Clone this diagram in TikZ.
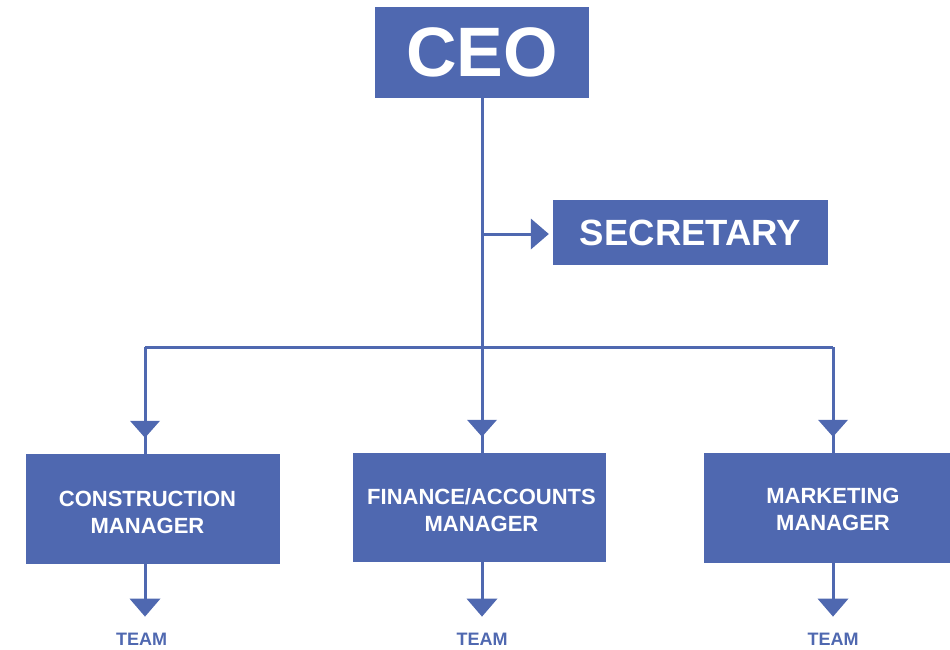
\documentclass[tikz,border=0pt]{standalone}
\usepackage{fontspec}
\setmainfont{Liberation Sans}
\usetikzlibrary{arrows.meta,decorations.markings,calc}
\definecolor{cblue}{RGB}{79,104,176}
\begin{document}
\begin{tikzpicture}[x=1pt,y=-1pt,
 box/.style={fill=cblue,draw=none,inner sep=0pt,text=white,align=center},
 conn/.style={color=cblue,line width=3pt},
 tipd/.style={-{Triangle[width=31pt,length=18pt,line width=0pt]}},
 midtip/.style={postaction={decorate},decoration={markings,mark=at position -16pt with {\arrow{Triangle[width=30pt,length=17pt,line width=0pt]}}}},
 lbl/.style={text=white,font=\fontsize{22}{27}\selectfont\bfseries,align=center,inner sep=0pt},
 teamlbl/.style={text=cblue,font=\fontsize{18}{20}\selectfont\bfseries,inner sep=0pt}]
\path[use as bounding box] (0,0) rectangle (950,650);
\node[box,minimum width=214pt,minimum height=91pt,font=\fontsize{70}{70}\selectfont\bfseries] (ceo) at (482,52.5) {CEO};
\node[box,minimum width=275pt,minimum height=65pt,font=\fontsize{36.5}{36}\selectfont\bfseries] (sec) at (690.5,232.5) {SECRETARY};
\node[box,minimum width=254pt,minimum height=110pt,label={[lbl,xshift=-5.5pt,yshift=-3pt]center:CONSTRUCTION\\MANAGER}] (cons) at (153,509) {};
\node[box,minimum width=253pt,minimum height=109pt,label={[lbl,xshift=2pt,yshift=-2.5pt]center:FINANCE/ACCOUNTS\\MANAGER}] (fin) at (479.5,507.5) {};
\node[box,minimum width=246pt,minimum height=110pt,label={[lbl,xshift=6pt,yshift=-1.5pt]center:MARKETING\\MANAGER}] (mkt) at (827,508) {};
\node[teamlbl] (team1) at (141.5,639) {TEAM};
\node[teamlbl] (team2) at (482,639) {TEAM};
\node[teamlbl] (team3) at (833,639) {TEAM};
\coordinate (cl) at (145,347);
\coordinate (cm) at (482,347);
\coordinate (cr) at (833,347);
\coordinate (sb) at (482,234);
\draw[conn,midtip] (ceo.south) -- (ceo.south |- fin.north);
\draw[conn] (cl) -- (cr);
\draw[conn,midtip] (cl) -- (cl |- cons.north);
\draw[conn,midtip] (cr) -- (cr |- mkt.north);
\draw[conn,tipd,shorten >=4pt] (sb) -- (sb -| sec.west);
\draw[conn,tipd,shorten >=16pt] (cl |- cons.south) -- (cl |- team1.north);
\draw[conn,tipd,shorten >=16pt] (cm |- fin.south) -- (cm |- team2.north);
\draw[conn,tipd,shorten >=16pt] (cr |- mkt.south) -- (cr |- team3.north);
\end{tikzpicture}
\end{document}
